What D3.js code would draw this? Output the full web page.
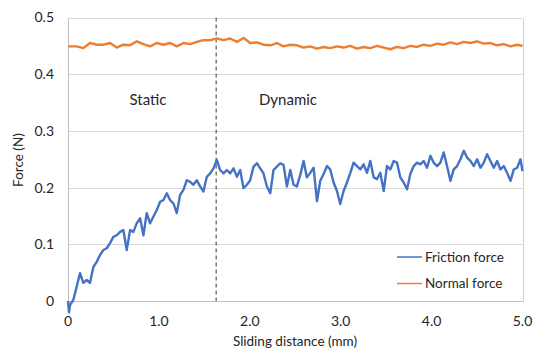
<!DOCTYPE html>
<html lang="en">
<head>
<meta charset="utf-8">
<title>Friction and normal force</title>
<style type="text/css">
    body { margin: 0; background: white; }
    svg { display: block; font-family: Lato, "Open Sans", sans-serif; }
</style>
</head>
<body>
<script src="https://d3js.org/d3.v7.min.js"></script>

<div id="viz">
    <svg style="width:533px;height:350px;"></svg>
</div>
<script>

    // values (distance in mm, force in N)
    var frictionDistance = [0.000, 0.011,
        0.022, 0.059, 0.095, 0.132, 0.169, 0.206, 0.242, 0.279, 0.316, 0.352,
        0.389, 0.426, 0.463, 0.499, 0.536, 0.573, 0.609, 0.646, 0.683, 0.719,
        0.756, 0.793, 0.830, 0.866, 0.903, 0.940, 0.976, 1.013, 1.050, 1.087,
        1.123, 1.160, 1.197, 1.233, 1.270, 1.307, 1.344, 1.380, 1.417, 1.454,
        1.490, 1.527, 1.564, 1.601, 1.637, 1.674, 1.711, 1.747, 1.784, 1.821,
        1.858, 1.894, 1.931, 1.968, 2.004, 2.041, 2.078, 2.114, 2.151, 2.188,
        2.225, 2.261, 2.298, 2.335, 2.371, 2.408, 2.445, 2.482, 2.518, 2.555,
        2.592, 2.628, 2.665, 2.702, 2.739, 2.775, 2.812, 2.849, 2.885, 2.922,
        2.959, 2.995, 3.032, 3.069, 3.106, 3.142, 3.179, 3.216, 3.252, 3.289,
        3.326, 3.363, 3.399, 3.436, 3.473, 3.509, 3.546, 3.583, 3.620, 3.656,
        3.693, 3.730, 3.766, 3.803, 3.840, 3.876, 3.913, 3.950, 3.987, 4.023,
        4.060, 4.097, 4.133, 4.170, 4.207, 4.244, 4.280, 4.317, 4.354, 4.390,
        4.427, 4.464, 4.501, 4.537, 4.574, 4.611, 4.647, 4.684, 4.721, 4.757,
        4.794, 4.831, 4.868, 4.904, 4.941, 4.978, 5.000];

    var frictionForce = [0.000, -0.020,
        -0.007, 0.002, 0.025, 0.049, 0.032, 0.037, 0.032, 0.060, 0.069, 0.081,
        0.090, 0.093, 0.102, 0.113, 0.116, 0.122, 0.125, 0.090, 0.125, 0.122,
        0.137, 0.146, 0.116, 0.155, 0.137, 0.149, 0.160, 0.175, 0.178, 0.190,
        0.178, 0.172, 0.155, 0.187, 0.196, 0.213, 0.210, 0.205, 0.213, 0.202,
        0.193, 0.219, 0.225, 0.234, 0.249, 0.231, 0.225, 0.231, 0.225, 0.234,
        0.219, 0.231, 0.199, 0.205, 0.213, 0.237, 0.243, 0.234, 0.225, 0.202,
        0.190, 0.231, 0.237, 0.243, 0.240, 0.202, 0.231, 0.205, 0.202, 0.222,
        0.247, 0.218, 0.226, 0.235, 0.176, 0.212, 0.224, 0.238, 0.232, 0.209,
        0.194, 0.171, 0.194, 0.209, 0.226, 0.244, 0.238, 0.232, 0.241, 0.226,
        0.247, 0.218, 0.215, 0.226, 0.194, 0.238, 0.232, 0.247, 0.244, 0.218,
        0.209, 0.197, 0.224, 0.238, 0.244, 0.241, 0.247, 0.235, 0.256, 0.244,
        0.238, 0.244, 0.262, 0.238, 0.212, 0.232, 0.238, 0.250, 0.265, 0.253,
        0.247, 0.238, 0.250, 0.235, 0.244, 0.259, 0.247, 0.235, 0.247, 0.232,
        0.238, 0.226, 0.212, 0.232, 0.235, 0.250, 0.229];

    var normalDistance = [0.000,
        0.022, 0.095, 0.169, 0.242, 0.316, 0.389, 0.463, 0.536, 0.609, 0.683,
        0.756, 0.830, 0.903, 0.976, 1.050, 1.123, 1.197, 1.270, 1.344, 1.417,
        1.490, 1.564, 1.637, 1.711, 1.784, 1.858, 1.931, 2.004, 2.078, 2.151,
        2.225, 2.298, 2.371, 2.445, 2.518, 2.592, 2.665, 2.739, 2.812, 2.885,
        2.959, 3.032, 3.106, 3.179, 3.252, 3.326, 3.399, 3.473, 3.546, 3.620,
        3.693, 3.766, 3.840, 3.913, 3.987, 4.060, 4.133, 4.207, 4.280, 4.354,
        4.427, 4.501, 4.574, 4.647, 4.721, 4.794, 4.868, 4.941, 5.000];

    var normalForce = [0.449,
        0.449, 0.449, 0.446, 0.455, 0.452, 0.452, 0.455, 0.447, 0.452, 0.451,
        0.458, 0.453, 0.449, 0.455, 0.452, 0.455, 0.449, 0.455, 0.453, 0.457,
        0.460, 0.460, 0.463, 0.460, 0.463, 0.457, 0.464, 0.455, 0.456, 0.452,
        0.451, 0.455, 0.449, 0.452, 0.451, 0.447, 0.449, 0.445, 0.448, 0.446,
        0.449, 0.447, 0.450, 0.445, 0.448, 0.446, 0.450, 0.447, 0.444, 0.448,
        0.446, 0.450, 0.448, 0.452, 0.450, 0.454, 0.452, 0.456, 0.453, 0.457,
        0.455, 0.458, 0.454, 0.455, 0.451, 0.453, 0.449, 0.452, 0.450];

    var xTicks = [0, 1, 2, 3, 4, 5];
    var xTickLabels = ["0", "1.0", "2.0", "3.0", "4.0", "5.0"];
    var yTicks = [0, 0.1, 0.2, 0.3, 0.4, 0.5];
    var yTickLabels = ["0", "0.1", "0.2", "0.3", "0.4", "0.5"];
    var transitionAt = 1.63;
    var seriesNames = ["Friction force", "Normal force"];
    var seriesColors = ["#4472C4", "#ED7D31"];

    var width = 533, height = 350;
    var margin = {top: 17.5, right: 10.5, bottom: 49, left: 68};

    var x = d3.scaleLinear().domain([0, 5]).range([margin.left, width - margin.right]);
    var y = d3.scaleLinear().domain([0, 0.5]).range([height - margin.bottom, margin.top]);

    var svg = d3.select("svg").attr("width", width).attr("height", height);

    // gridlines
    svg.append("g")
        .selectAll("line")
        .data(yTicks.slice(1))
        .enter().append("line")
        .attr("x1", x(0)).attr("x2", x(5))
        .attr("y1", d => Math.round(y(d)) + 0.5).attr("y2", d => Math.round(y(d)) + 0.5)
        .style("stroke", "#d9d9d9");

    // axes lines
    var x0 = Math.round(x(0)) + 0.5, x5 = Math.round(x(5)) + 0.5;
    var yb = Math.round(y(0)) + 0.5, yt = Math.round(y(0.5)) + 0.5;
    svg.append("line").attr("x1", x0).attr("x2", x5).attr("y1", yb).attr("y2", yb).style("stroke", "#bfbfbf");
    svg.append("line").attr("x1", x0).attr("x2", x0).attr("y1", yt).attr("y2", yb).style("stroke", "#bfbfbf");
    svg.append("line").attr("x1", x5).attr("x2", x5).attr("y1", yt).attr("y2", yb).style("stroke", "#d0d0d0");

    // tick labels
    svg.append("g")
        .selectAll("text")
        .data(yTicks)
        .enter().append("text")
        .attr("x", 54)
        .attr("y", d => y(d))
        .attr("dy", "0.35em")
        .attr("text-anchor", "end")
        .style("font-size", "14px")
        .style("fill", "#262626")
        .text((d, i) => yTickLabels[i]);

    svg.append("g")
        .selectAll("text")
        .data(xTicks)
        .enter().append("text")
        .attr("x", d => x(d))
        .attr("y", 321)
        .attr("dy", "0.35em")
        .attr("text-anchor", "middle")
        .style("font-size", "14px")
        .style("fill", "#262626")
        .text((d, i) => xTickLabels[i]);

    // axis titles
    svg.append("text")
        .attr("x", 295).attr("y", 341).attr("dy", "0.35em")
        .attr("text-anchor", "middle")
        .style("font-size", "13.5px").style("fill", "#262626")
        .text("Sliding distance (mm)");

    svg.append("text")
        .attr("transform", "translate(18,160) rotate(-90)")
        .attr("dy", "0.35em")
        .attr("text-anchor", "middle")
        .style("font-size", "13.5px").style("fill", "#262626")
        .text("Force (N)");

    // static / dynamic divider
    svg.append("line")
        .attr("x1", x(transitionAt)).attr("x2", x(transitionAt))
        .attr("y1", y(0.5)).attr("y2", y(0))
        .style("stroke", "#595959")
        .style("stroke-width", 1.2)
        .style("stroke-dasharray", "4,3");

    svg.append("text")
        .attr("x", 148).attr("y", 100).attr("dy", "0.35em")
        .attr("text-anchor", "middle")
        .style("font-size", "15px").style("fill", "#262626")
        .text("Static");

    svg.append("text")
        .attr("x", 288).attr("y", 100).attr("dy", "0.35em")
        .attr("text-anchor", "middle")
        .style("font-size", "15px").style("fill", "#262626")
        .text("Dynamic");

    // series
    var line = d3.line()
        .x(d => x(d[0]))
        .y(d => y(d[1]));

    var series = [
        frictionDistance.map((d, i) => [d, frictionForce[i]]),
        normalDistance.map((d, i) => [d, normalForce[i]])
    ];

    svg.append("g")
        .selectAll("path")
        .data(series)
        .enter().append("path")
        .attr("d", line)
        .style("fill", "none")
        .style("stroke", (d, i) => seriesColors[i])
        .style("stroke-width", 2.4)
        .style("stroke-linejoin", "round");

    // legend
    var legend = svg.append("g")
        .selectAll("g")
        .data(seriesNames)
        .enter().append("g")
        .attr("transform", (d, i) => "translate(397," + (257 + i * 26.5) + ")");

    legend.append("line")
        .attr("x1", 0).attr("x2", 25)
        .style("stroke", (d, i) => seriesColors[i])
        .style("stroke-width", 1.5);

    legend.append("text")
        .attr("x", 28)
        .attr("dy", "0.35em")
        .style("font-size", "13.5px").style("fill", "#262626")
        .text(d => d);

</script>
</body>
</html>
